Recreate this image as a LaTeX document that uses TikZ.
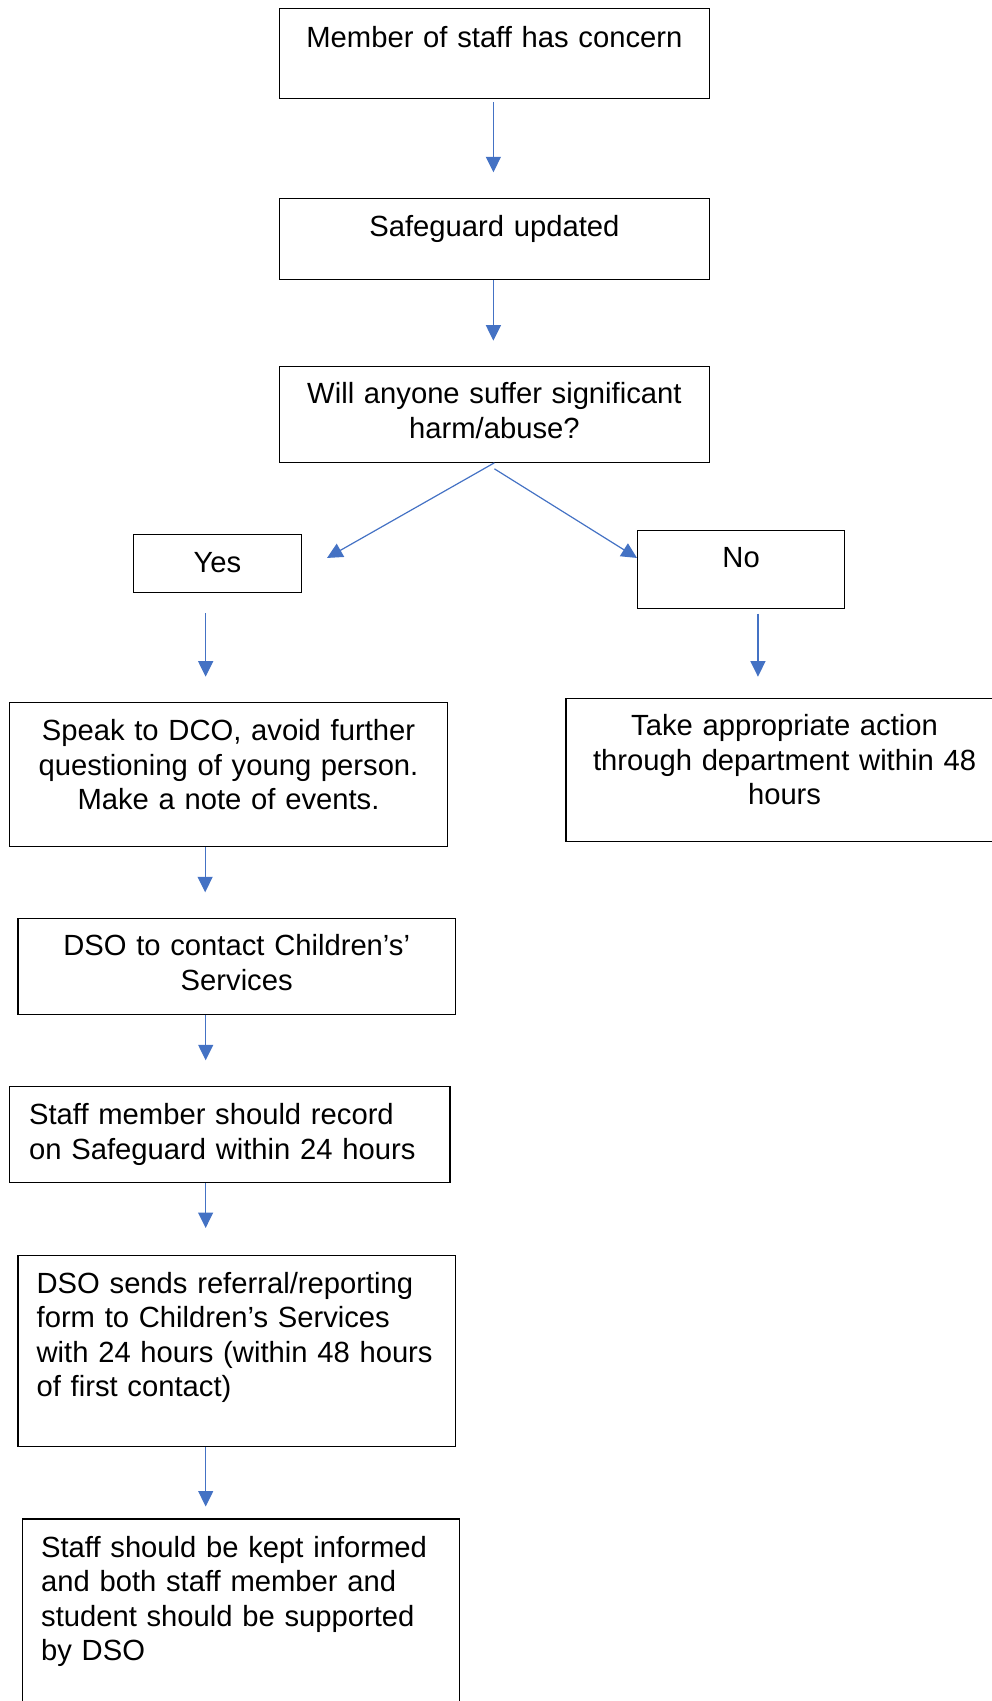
\documentclass[tikz,border=0pt]{standalone}
\usepackage{fontspec}
\setmainfont{Liberation Sans}
\usetikzlibrary{arrows.meta}
\definecolor{flowblue}{HTML}{4472C4}
\tikzset{
    box/.style={draw, line width=1.3pt, anchor=north west, inner ysep=0pt, inner xsep=5pt,
        align=center, font=\fontsize{29.2}{34.5}\selectfont},
    leftbox/.style={box, align=left},
    flow/.style={draw=flowblue, line width=1.2pt, -{Triangle[length=15.5pt,width=15pt]}}
}
\begin{document}
\begin{tikzpicture}[x=1pt,y=-1pt]
    \useasboundingbox (0,0) rectangle (992,1701);
    \clip (0,0) rectangle (992,1701);
    % top of the chart
    \node[box, text width=420.5pt, text height=39.3pt, text depth=50.7pt] (concern) at (278.5,7.5) {Member of staff has concern};
    \node[box, text width=420.5pt, text height=38pt, text depth=43.5pt] (updated) at (278.5,197.5) {Safeguard updated};
    \node[box, text width=420.5pt, text height=37.8pt, text depth=58.2pt] (harm) at (278.5,365.5) {Will anyone suffer significant\\harm/abuse?};
    \node[box, text width=158.5pt, text height=38.2pt, text depth=19.8pt] (yes) at (132.5,533.5) {Yes};
    \node[box, text width=197pt, text height=37.8pt, text depth=40.2pt] (no) at (637,529.5) {No};
    % the two branches
    \node[box, text width=428.3pt, text height=38pt, text depth=105.5pt] (speak) at (8.7,702) {Speak to DCO, avoid further\\questioning of young person.\\Make a note of events.};
    \node[box, text width=427pt, text height=37pt, text depth=106pt] (take) at (565.4,698) {Take appropriate action\\through department within 48\\hours};
    \node[box, text width=427.3pt, text height=37pt, text depth=58.7pt] (contact) at (17.4,918) {DSO to contact Children’s’\\Services};
    \node[leftbox, inner xsep=19.8pt, text width=401pt, text height=38.3pt, text depth=57.6pt] (record) at (8.7,1086) {Staff member should record\\on Safeguard within 24 hours};
    \node[leftbox, inner xsep=18.6pt, text width=400.1pt, text height=38.2pt, text depth=152.8pt] (sends) at (17.4,1254.6) {DSO sends referral/reporting\\form to Children’s Services\\with 24 hours (within 48 hours\\of first contact)};
    \node[leftbox, inner xsep=18.8pt, text width=399.7pt, text height=38.2pt, text depth=203.5pt] (kept) at (21.7,1518.3) {Staff should be kept informed\\and both staff member and\\student should be supported\\by DSO};

    \draw[flow, shorten <=3.5pt, shorten >=25.2pt] ([xshift=-1pt]concern.south) -- ([xshift=-1pt]updated.north);
    \draw[flow, shorten >=24.8pt] ([xshift=-1pt]updated.south) -- ([xshift=-1pt]harm.north);
    \draw[flow] (harm.south) -- ([shift={(24.7,-5.2)}]yes.east);
    \draw[flow] ([shift={(0,6)}]harm.south) -- ([shift={(0,-11.2)}]no.west);
    \draw[flow, shorten <=20.2pt, shorten >=25.3pt] ([xshift=-11.75pt]yes.south) -- ([xshift=-11.75pt]yes.south |- speak.north);
    \draw[flow, shorten <=4.8pt, shorten >=21.3pt] ([xshift=16.8pt]no.south) -- ([xshift=16.8pt]no.south |- take.north);
    \draw[flow, shorten >=25.7pt] ([xshift=-23.35pt]speak.south) -- ([xshift=-23.35pt]speak.south |- contact.north);
    \draw[flow, shorten >=25.7pt] ([xshift=-31pt]contact.south) -- ([xshift=-31pt]contact.south |- record.north);
    \draw[flow, shorten >=26.6pt] ([xshift=-24pt]record.south) -- ([xshift=-24pt]record.south |- sends.north);
    \draw[flow, shorten >=11.8pt] ([xshift=-31pt]sends.south) -- ([xshift=-31pt]sends.south |- kept.north);
\end{tikzpicture}
\end{document}
